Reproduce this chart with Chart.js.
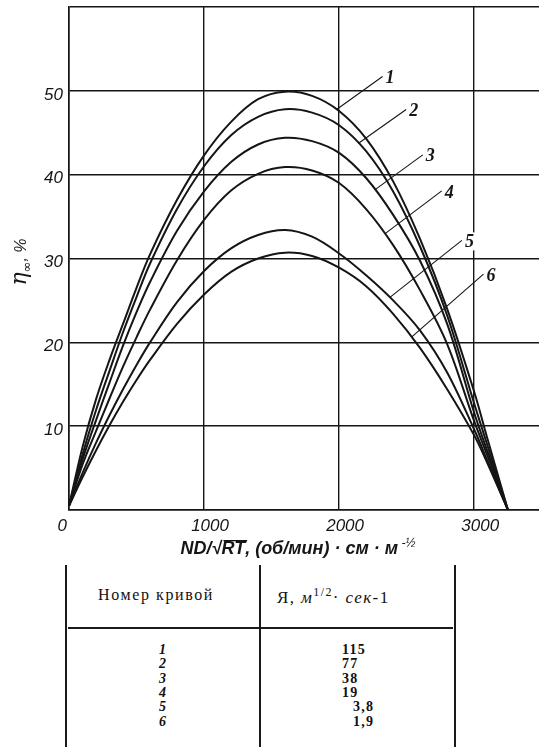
<!DOCTYPE html>
<html>
<head>
<meta charset="utf-8">
<script src="https://cdn.jsdelivr.net/npm/chart.js@4.4.1/dist/chart.umd.min.js"></script>
<style>
  body { margin: 0; background: #fff; }
  #wrap { position: relative; width: 539px; height: 747px; overflow: hidden; background: #fff; }
  #chart { position: absolute; left: 0; top: 0; }
  .line { position: absolute; background: #1a1a1a; }
  .txt { position: absolute; color: #111; white-space: nowrap; font-family: "Liberation Serif", serif; }
</style>
</head>
<body>
<div id="wrap">
  <canvas id="chart" width="539" height="562"></canvas>
  <div id="table"></div>
</div>
<script>
// x = ND/sqrt(RT), y = efficiency in %
const xValues = [0, 100, 200, 300, 400, 500, 600, 800, 1000, 1200, 1400, 1600, 1800, 2000, 2200, 2400, 2600, 2800, 3000, 3100, 3250];
const curve1 = [0.5, 7.5, 13.2, 17.9, 22.2, 26.5, 30.5, 37.0, 42.3, 46.3, 49.0, 49.9, 49.4, 47.6, 44.3, 39.2, 32.3, 24.0, 14.1, 8.4, 0];
const curve2 = [0.5, 6.6, 11.9, 16.6, 21.2, 25.4, 29.4, 35.9, 41.0, 44.7, 46.9, 47.8, 47.4, 45.9, 42.8, 38.0, 31.4, 23.2, 12.7, 7.6, 0];
const curve3 = [0.5, 6.0, 10.7, 15.2, 19.6, 23.6, 27.2, 33.3, 38.0, 41.5, 43.6, 44.4, 44.0, 42.6, 39.6, 35.2, 29.7, 22.2, 11.6, 6.9, 0];
const curve4 = [0.5, 5.4, 9.4, 13.3, 17.1, 20.6, 23.9, 29.8, 34.6, 38.1, 40.1, 40.9, 40.5, 39.0, 35.9, 31.6, 26.2, 19.8, 10.6, 6.4, 0];
const curve5 = [0.5, 4.4, 8.0, 11.3, 14.4, 17.3, 20.0, 24.8, 28.5, 31.2, 32.8, 33.4, 32.6, 30.6, 28.0, 25.0, 21.4, 16.4, 9.6, 5.8, 0];
const curve6 = [0.5, 3.9, 7.1, 10.1, 12.9, 15.5, 17.9, 22.2, 25.7, 28.4, 30.0, 30.7, 30.3, 28.9, 26.7, 23.4, 19.3, 14.4, 8.9, 5.5, 0];

const curves = [curve1, curve2, curve3, curve4, curve5, curve6];
const curveNames = ['1', '2', '3', '4', '5', '6'];
const aValues = ['115', '77', '38', '19', '3,8', '1,9'];
const xTickValues = [0, 1000, 2000, 3000];
const yTickValues = [0, 10, 20, 30, 40, 50, 60];

// where each leader line touches its curve (x in data units) and how it runs to the number
const leaderSpots = [
    { x: 1981, dx: 46, dy: -33 },
    { x: 2141, dx: 48, dy: -34 },
    { x: 2264, dx: 48, dy: -35 },
    { x: 2338, dx: 57, dy: -43 },
    { x: 2376, dx: 72, dy: -57 },
    { x: 2536, dx: 72, dy: -63 },
];

const ink = '#151515';

function valueAt(series, x) {
    for (let j = 0; j < xValues.length - 1; j++) {
        if (x >= xValues[j] && x <= xValues[j + 1]) {
            const t = (x - xValues[j]) / (xValues[j + 1] - xValues[j]);
            return series[j] + t * (series[j + 1] - series[j]);
        }
    }
    return 0;
}

// draws a row of text pieces with different fonts, starting at x
function drawParts(ctx, parts, x, y) {
    let cx = x;
    parts.forEach(p => {
        ctx.font = p.font;
        const w = ctx.measureText(p.text).width;
        ctx.fillText(p.text, cx, y + (p.dy || 0));
        if (p.overline) {
            ctx.fillRect(cx + 2, y - 14, w, 1.3);
        }
        cx += w;
    });
}

function partsWidth(ctx, parts) {
    return parts.reduce((sum, p) => {
        ctx.font = p.font;
        return sum + ctx.measureText(p.text).width;
    }, 0);
}

const annotations = {
    id: 'annotations',
    afterDatasetsDraw(chart) {
        const ctx = chart.ctx;
        const xs = chart.scales.x;
        const ys = chart.scales.y;
        ctx.save();
        ctx.strokeStyle = ink;
        ctx.fillStyle = ink;
        ctx.lineWidth = 1.1;
        leaderSpots.forEach((spot, i) => {
            const px = xs.getPixelForValue(spot.x);
            const py = ys.getPixelForValue(valueAt(curves[i], spot.x));
            ctx.beginPath();
            ctx.moveTo(px, py);
            ctx.lineTo(px + spot.dx, py + spot.dy);
            ctx.stroke();
            ctx.font = 'italic bold 18px "Liberation Serif"';
            ctx.textBaseline = 'middle';
            ctx.textAlign = 'left';
            const tw = ctx.measureText(curveNames[i]).width;
            ctx.fillStyle = '#fff';
            ctx.fillRect(px + spot.dx + 2, py + spot.dy - 8, tw + 4, 18);
            ctx.fillStyle = ink;
            ctx.fillText(curveNames[i], px + spot.dx + 3, py + spot.dy + 2);
        });
        ctx.restore();
    },
    afterDraw(chart) {
        const ctx = chart.ctx;
        ctx.save();
        ctx.fillStyle = ink;
        ctx.textBaseline = 'alphabetic';
        ctx.textAlign = 'left';

        // y axis title, rotated
        const yParts = [
            { text: 'η', font: 'italic 22px "DejaVu Serif"' },
            { text: '∞', font: '13px "DejaVu Sans"', dy: 5 },
            { text: ', %', font: 'italic 16px "Liberation Sans"' },
        ];
        ctx.translate(26, 262);
        ctx.rotate(-Math.PI / 2);
        drawParts(ctx, yParts, -partsWidth(ctx, yParts) / 2, 0);
        ctx.setTransform(1, 0, 0, 1, 0, 0);

        // x axis title
        const xParts = [
            { text: 'ND/√', font: 'italic bold 18px "Liberation Sans"' },
            { text: 'RT', font: 'italic bold 18px "Liberation Sans"', overline: true },
            { text: ', (об/мин) · см · м', font: 'italic bold 18px "Liberation Sans"' },
            { text: ' -½', font: 'italic 12px "Liberation Sans"', dy: -7 },
        ];
        const w = partsWidth(ctx, xParts);
        drawParts(ctx, xParts, 298 - w / 2, 554);
        ctx.restore();
    }
};

new Chart(document.getElementById('chart'), {
    type: 'line',
    data: {
        datasets: curves.map((series, i) => ({
            label: curveNames[i],
            data: xValues.map((x, j) => ({ x, y: series[j] })),
            borderColor: ink,
            borderWidth: 2,
            pointRadius: 0,
            fill: false,
            tension: 0.35,
        })),
    },
    options: {
        responsive: false,
        animation: false,
        layout: { padding: { top: 7, left: 0, right: 0, bottom: 0 } },
        plugins: { legend: { display: false }, tooltip: { enabled: false } },
        scales: {
            x: {
                type: 'linear',
                min: 0,
                max: 3480,
                afterBuildTicks: (scale) => { scale.ticks = xTickValues.map(v => ({ value: v })); },
                afterFit: (scale) => {
                    scale.height = 52;
                    scale.paddingLeft = 0;
                    scale.paddingRight = 0;
                },
                grid: { color: ink, lineWidth: 1.4, drawTicks: false },
                border: { color: ink, width: 1.6 },
                ticks: {
                    padding: 6,
                    labelOffset: 6,
                    color: ink,
                    font: { family: 'Liberation Sans', size: 17, style: 'italic' },
                    // the origin label sits a little left of the axis in the source
                    callback: (v) => v === 0 ? '0\u2003\u2002' : String(v),
                },
            },
            y: {
                min: 0,
                max: 60,
                afterBuildTicks: (scale) => { scale.ticks = yTickValues.map(v => ({ value: v })); },
                afterFit: (scale) => {
                    scale.width = 69;
                    scale.paddingTop = 0;
                    scale.paddingBottom = 0;
                },
                grid: { color: ink, lineWidth: 1.4, drawTicks: false },
                border: { color: ink, width: 1.6 },
                ticks: {
                    padding: 6,
                    labelOffset: 4,
                    color: ink,
                    font: { family: 'Liberation Sans', size: 17, style: 'italic' },
                    callback: (v) => (v === 0 || v === 60) ? '' : String(v),
                },
            },
        },
    },
    plugins: [annotations],
});

// table of curve numbers and their parameter
function buildTable() {
    const box = document.getElementById('table');
    const lines = [
        { l: 65, t: 565, w: 2, h: 182 },
        { l: 259, t: 565, w: 2, h: 182 },
        { l: 454, t: 565, w: 2, h: 182 },
        { l: 68, t: 627, w: 385, h: 2 },
    ];
    let html = lines.map(b => `<div class="line" style="left:${b.l}px;top:${b.t}px;width:${b.w}px;height:${b.h}px"></div>`).join('');
    html += `<div class="txt" style="left:98px;top:586px;font-size:16px;letter-spacing:1.6px">Номер кривой</div>`;
    html += `<div class="txt" style="left:277px;top:585px;font-size:17px;letter-spacing:1.4px">Я, <i>м</i><sup style="font-size:12px">1/2</sup>· <i>сек</i>-1</div>`;
    curveNames.forEach((name, i) => {
        const top = 642 + i * 14.3;
        html += `<div class="txt" style="left:159px;top:${top}px;font-size:14px;font-weight:bold;font-style:italic;line-height:16px">${name}</div>`;
        const left = aValues[i].includes(',') ? 353 : 342;
        html += `<div class="txt" style="left:${left}px;top:${top}px;font-size:14px;font-weight:bold;letter-spacing:1.2px;line-height:16px">${aValues[i]}</div>`;
    });
    box.innerHTML = html;
}
buildTable();
</script>
</body>
</html>
